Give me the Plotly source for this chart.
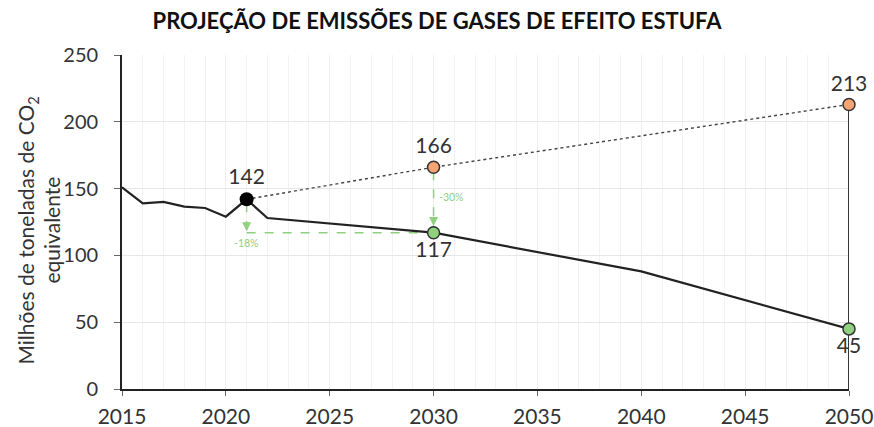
import plotly.graph_objects as go

# Data
hist_years = [2015, 2016, 2017, 2018, 2019, 2020, 2021, 2022, 2030, 2040, 2050]
hist_values = [151, 139, 140, 136.5, 135.5, 129, 142, 128, 117, 88, 45]
bau_years = [2021, 2030, 2050]
bau_values = [142, 166, 213]
target_years = [2030, 2050]
target_values = [117, 45]
base_year = 2021
base_value = 142
pct_labels = ["-18%", "-30%"]
y_title_lines = ["Milhões de toneladas de CO<sub>2</sub>", "equivalente"]

GREEN = "#8fd17e"
ORANGE = "#f6a473"
DARK = "#222222"
TXT = "#333333"
FONT = "Lato"

fig = go.Figure()

# vertical line at 2050 (0 to BAU)
fig.add_trace(go.Scatter(x=[bau_years[-1], bau_years[-1]], y=[0, bau_values[-1]],
                         mode="lines", line=dict(color=DARK, width=1.8), hoverinfo="skip",
                         showlegend=False, cliponaxis=False))

# green dashed reference lines
fig.add_trace(go.Scatter(x=[base_year, target_years[0]], y=[target_values[0], target_values[0]],
                         mode="lines", line=dict(color=GREEN, width=1.5, dash="dash"), showlegend=False))
fig.add_trace(go.Scatter(x=[base_year, base_year], y=[base_value - 3, target_values[0] + 1],
                         mode="lines", line=dict(color=GREEN, width=1.5, dash="dash"), showlegend=False))
fig.add_trace(go.Scatter(x=[target_years[0], target_years[0]], y=[bau_values[1] - 3, target_values[0] + 3],
                         mode="lines", line=dict(color=GREEN, width=1.5, dash="dash"), showlegend=False))

# BAU dotted
fig.add_trace(go.Scatter(x=bau_years, y=bau_values, mode="lines",
                         line=dict(color="#444444", width=1.4, dash="dot"), showlegend=False))

# historical + target line
fig.add_trace(go.Scatter(x=hist_years, y=hist_values, mode="lines",
                         line=dict(color=DARK, width=2.2), showlegend=False, cliponaxis=False))

# markers
fig.add_trace(go.Scatter(x=[base_year], y=[base_value], mode="markers+text",
                         marker=dict(color="black", size=14),
                         text=[str(base_value)], textposition="top center",
                         textfont=dict(size=21, color=TXT), showlegend=False, cliponaxis=False))
fig.add_trace(go.Scatter(x=bau_years[1:], y=bau_values[1:], mode="markers+text",
                         marker=dict(color=ORANGE, size=12, line=dict(color="#333333", width=1.5)),
                         text=[str(v) for v in bau_values[1:]], textposition="top center",
                         textfont=dict(size=21, color=TXT), showlegend=False, cliponaxis=False))
fig.add_trace(go.Scatter(x=target_years, y=target_values, mode="markers+text",
                         marker=dict(color=GREEN, size=12, line=dict(color="#333333", width=1.5)),
                         text=[str(v) for v in target_values], textposition="bottom center",
                         textfont=dict(size=21, color=TXT), showlegend=False, cliponaxis=False))

# arrowheads
for xv, ytip in [(base_year, target_values[0] + 1), (target_years[0], target_values[0] + 5)]:
    fig.add_annotation(x=xv, y=ytip, ax=xv, ay=ytip + 5, xref="x", yref="y", axref="x", ayref="y",
                       showarrow=True, arrowhead=2, arrowsize=1.2, arrowwidth=1.5, arrowcolor=GREEN, text="")

# percentage labels
fig.add_annotation(x=base_year, y=109, text=pct_labels[0], showarrow=False,
                   font=dict(size=10.5, color=GREEN, family=FONT), xanchor="center")
fig.add_annotation(x=target_years[0] + 0.85, y=144, text=pct_labels[1], showarrow=False,
                   font=dict(size=10.5, color=GREEN, family=FONT), xanchor="center")

# y axis title (two lines)
for xp, line in zip([-0.130, -0.097], y_title_lines):
    fig.add_annotation(xref="paper", yref="paper", x=xp, y=0.476, xanchor="center", yanchor="middle",
                       text=line, textangle=-90, showarrow=False,
                       font=dict(size=21, color=TXT, family=FONT))

fig.update_layout(
    width=874, height=427,
    margin=dict(l=122, r=25, t=55, b=38, autoexpand=False),
    paper_bgcolor="white", plot_bgcolor="white",
    font=dict(family=FONT, color=TXT),
    title=dict(text="<b>PROJEÇÃO DE EMISSÕES DE GASES DE EFEITO ESTUFA</b>",
               x=0.5, xanchor="center", y=0.95, yanchor="middle",
               font=dict(size=22, color="#111111", family=FONT)),
    xaxis=dict(range=[2015, 2050], tick0=2015, dtick=5, showgrid=True, gridcolor="#eeeeee",
               minor=dict(dtick=1, showgrid=True, gridcolor="#f2f2f2"),
               showline=True, linecolor=DARK, linewidth=1.8,
               ticks="outside", ticklen=5, tickcolor="#666666", ticklabelstandoff=3,
               tickfont=dict(size=21, color=TXT), zeroline=False, automargin=False),
    yaxis=dict(range=[0, 250], dtick=50, showgrid=True, gridcolor="#e6e6e6",
               showline=True, linecolor=DARK, linewidth=1.8,
               ticks="outside", ticklen=6, tickcolor="#666666", ticklabelstandoff=12,
               tickfont=dict(size=20, color=TXT), zeroline=False, automargin=False),
)

fig.write_html("out.html", config={"displayModeBar": False},
               post_script="document.body.style.margin='0';document.body.style.overflow='hidden';")
